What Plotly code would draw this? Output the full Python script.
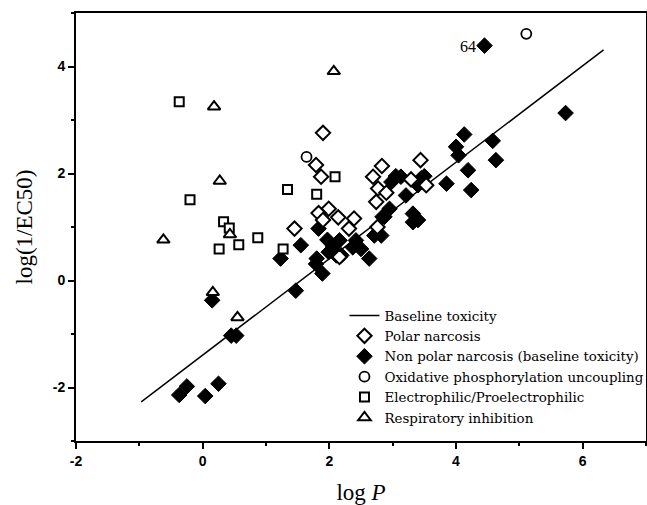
import plotly.graph_objects as go

# Baseline toxicity line (end points)
baseline_x = [-0.97, 6.33]
baseline_y = [-2.27, 4.31]

# Polar narcosis (open diamonds)
polar_x = [1.90, 1.79, 1.87, 1.99, 1.83, 1.90, 2.14, 1.45, 2.39, 2.31, 2.83, 2.69,
           2.77, 2.90, 2.74, 2.76, 2.16, 3.44, 3.29, 3.53]
polar_y = [2.76, 2.16, 1.94, 1.34, 1.26, 1.13, 1.18, 0.97, 1.16, 0.97, 2.14, 1.94,
           1.72, 1.64, 1.47, 1.00, 0.44, 2.25, 1.89, 1.78]

# Non polar narcosis (filled diamonds)
nonpolar_x = [-0.37, -0.25, 0.04, 0.25, 0.45, 0.53, 0.15, 1.47, 1.79, 1.89, 1.23, 1.55,
              1.99, 2.11, 2.37, 2.63, 1.83, 1.97, 2.06, 2.16, 1.80, 2.19, 2.42, 2.50,
              2.71, 2.82, 2.87, 2.95, 2.98, 3.05, 3.13, 3.45, 3.40, 3.21, 3.32, 3.40,
              3.32, 4.45, 5.73, 4.13, 4.58, 4.00, 4.04, 4.63, 4.19, 3.85, 4.24, 3.50,
              2.84]
nonpolar_y = [-2.14, -1.98, -2.16, -1.93, -1.03, -1.03, -0.37, -0.19, 0.31, 0.13, 0.41, 0.66,
              0.53, 0.47, 0.62, 0.41, 0.97, 0.76, 0.63, 0.75, 0.41, 0.47, 0.75, 0.59,
              0.84, 0.84, 1.19, 1.34, 1.84, 1.95, 1.94, 1.91, 1.78, 1.59, 1.25, 1.13,
              1.09, 4.39, 3.13, 2.73, 2.61, 2.50, 2.34, 2.25, 2.06, 1.81, 1.69, 1.95,
              1.19]

# Oxidative phosphorylation uncoupling (open circles)
oxid_x = [5.11, 1.64]
oxid_y = [4.61, 2.31]

# Electrophilic/Proelectrophilic (open squares)
electro_x = [-0.37, -0.20, 0.33, 0.42, 0.57, 0.26, 0.87, 1.34, 1.27, 1.80, 2.09]
electro_y = [3.34, 1.51, 1.10, 0.98, 0.67, 0.59, 0.80, 1.70, 0.59, 1.61, 1.94]

# Respiratory inhibition (open triangles)
resp_x = [-0.62, 0.18, 2.07, 0.27, 0.43, 0.16, 0.55]
resp_y = [0.76, 3.25, 3.91, 1.86, 0.86, -0.22, -0.69]

# Labelled compound
label_x = [4.45]
label_y = [4.39]
label_text = ["64"]

x_ticks = [-2, 0, 2, 4, 6]
y_ticks = [-2, 0, 2, 4]

fig = go.Figure()

fig.add_trace(go.Scatter(x=nonpolar_x, y=nonpolar_y, mode="markers",
                         name="Non polar narcosis (baseline toxicity)", legendrank=3,
                         marker=dict(symbol="diamond", size=12, color="black",
                                     line=dict(color="black", width=1))))
fig.add_trace(go.Scatter(x=baseline_x, y=baseline_y, mode="lines",
                         name="Baseline toxicity", legendrank=1,
                         line=dict(color="black", width=1.5)))
fig.add_trace(go.Scatter(x=polar_x, y=polar_y, mode="markers",
                         name="Polar narcosis", legendrank=2,
                         marker=dict(symbol="diamond", size=11, color="white",
                                     line=dict(color="black", width=2))))
fig.add_trace(go.Scatter(x=oxid_x, y=oxid_y, mode="markers",
                         name="Oxidative phosphorylation uncoupling", legendrank=4,
                         marker=dict(symbol="circle", size=10, color="white",
                                     line=dict(color="black", width=1.8))))
fig.add_trace(go.Scatter(x=electro_x, y=electro_y, mode="markers",
                         name="Electrophilic/Proelectrophilic", legendrank=5,
                         marker=dict(symbol="square", size=9, color="white",
                                     line=dict(color="black", width=2))))
fig.add_trace(go.Scatter(x=resp_x, y=resp_y, mode="markers",
                         name="Respiratory inhibition", legendrank=6,
                         marker=dict(symbol="triangle-up", size=11, color="white",
                                     line=dict(color="black", width=2))))

for lx, ly, lt in zip(label_x, label_y, label_text):
    fig.add_annotation(x=lx, y=ly, text=lt, showarrow=False, xanchor="right",
                       xshift=-7, yshift=-1,
                       font=dict(family="Liberation Serif", size=16, color="black"))

axis_common = dict(showline=True, linecolor="black", linewidth=2, mirror=True,
                   showgrid=False, zeroline=False, ticks="outside", ticklen=6,
                   tickwidth=2, tickcolor="black", automargin=False,
                   tickfont=dict(family="Liberation Sans", size=14, color="black",
                                 weight="bold"))

fig.update_xaxes(range=[-2, 7], tickvals=x_ticks, ticktext=[str(v) for v in x_ticks],
                 minor=dict(dtick=1, tick0=-1, ticks="outside", ticklen=3,
                            tickwidth=2, tickcolor="black"),
                 title=dict(text="log <i>P</i>", standoff=18,
                            font=dict(family="Liberation Serif", size=23, color="black")),
                 **axis_common)
fig.update_yaxes(range=[-3, 5], tickvals=y_ticks, ticktext=[str(v) for v in y_ticks],
                 minor=dict(dtick=1, tick0=-3, ticks="outside", ticklen=3,
                            tickwidth=2, tickcolor="black"),
                 title=dict(text="log(1/EC50)", standoff=14,
                            font=dict(family="Liberation Serif", size=23, color="black")),
                 **axis_common)

fig.update_layout(
    width=647, height=505,
    margin=dict(l=76, r=1, t=13, b=64, autoexpand=False),
    paper_bgcolor="white", plot_bgcolor="white",
    showlegend=True,
    legend=dict(x=0.471, y=0.329, xanchor="left", yanchor="top",
                bgcolor="rgba(0,0,0,0)", borderwidth=0, tracegroupgap=0,
                font=dict(family="DejaVu Serif", size=13.4, color="black")),
)

fig.write_html("out.html", config={"displayModeBar": False},
               post_script="document.body.style.margin='0px';document.body.style.padding='0px';")
